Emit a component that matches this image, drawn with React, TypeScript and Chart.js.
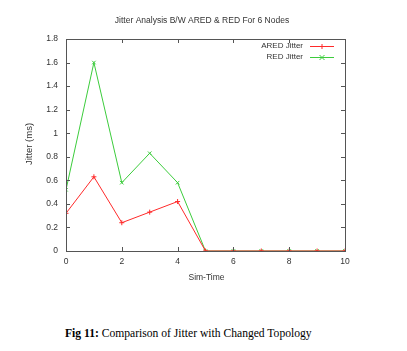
import React, { useEffect, useRef } from "react";
import { Chart, registerables } from "chart.js";

Chart.register(...registerables);

const simTime = [0, 1, 2, 3, 4, 5, 6, 7, 8, 9, 10];
const aredJitter = [0.32, 0.63, 0.24, 0.33, 0.42, 0, 0, 0, 0, 0, 0];
const redJitter = [0.52, 1.6, 0.58, 0.83, 0.58, 0, 0, 0, 0, 0, 0];
const xTicks = [0, 2, 4, 6, 8, 10];
const yTicks = [0, 0.2, 0.4, 0.6, 0.8, 1, 1.2, 1.4, 1.6, 1.8];
const titleText = "Jitter Analysis B/W ARED & RED For 6 Nodes";
const xLabel = "Sim-Time";
const yLabel = "Jitter (ms)";
const seriesNames = ["ARED Jitter", "RED Jitter"];
const seriesColors = ["#ff2a2a", "#3ccc3c"];
const seriesMarkers = ["cross", "crossRot"];

const FONT = "'Liberation Sans', Arial, sans-serif";
const TEXT = "#333";

const decorPlugin = {
  id: "decor",
  afterDraw(chart: any) {
    const { ctx, chartArea } = chart;
    const { left, right, top, bottom } = chartArea;
    const xs = chart.scales.x;
    const ys = chart.scales.y;
    ctx.save();
    ctx.strokeStyle = "#555";
    ctx.lineWidth = 1;
    ctx.strokeRect(Math.round(left) + 0.5, Math.round(top) + 0.5, Math.round(right - left), Math.round(bottom - top));
    const tl = 4;
    ctx.beginPath();
    yTicks.forEach((v) => {
      const y = Math.round(ys.getPixelForValue(v)) + 0.5;
      ctx.moveTo(left, y);
      ctx.lineTo(left + tl, y);
      ctx.moveTo(right, y);
      ctx.lineTo(right - tl, y);
    });
    xTicks.forEach((v) => {
      const x = Math.round(xs.getPixelForValue(v)) + 0.5;
      ctx.moveTo(x, bottom);
      ctx.lineTo(x, bottom - tl);
      ctx.moveTo(x, top);
      ctx.lineTo(x, top + tl);
    });
    ctx.stroke();

    ctx.fillStyle = TEXT;
    ctx.font = `8.5px ${FONT}`;
    ctx.textAlign = "center";
    ctx.textBaseline = "middle";
    ctx.fillText(titleText, 202, 21);
    ctx.font = `8.5px ${FONT}`;
    ctx.fillText(xLabel, (left + right) / 2 + 1, 278);
    ctx.save();
    ctx.translate(29, 144);
    ctx.rotate(-Math.PI / 2);
    ctx.font = `9.5px ${FONT}`;
    ctx.fillText(yLabel, 0, 0);
    ctx.restore();

    const rows = [45.5, 57];
    seriesNames.forEach((name, i) => {
      const y = rows[i];
      ctx.fillStyle = TEXT;
      ctx.textAlign = "right";
      ctx.font = `8px ${FONT}`;
      ctx.fillText(name, 303, y);
      ctx.strokeStyle = seriesColors[i];
      ctx.lineWidth = 1;
      ctx.beginPath();
      ctx.moveTo(310, Math.round(y) + 0.5);
      ctx.lineTo(334, Math.round(y) + 0.5);
      ctx.stroke();
      ctx.beginPath();
      const cx = 322, cy = Math.round(y) + 0.5, r = 2.5;
      if (i === 0) {
        ctx.moveTo(cx - r, cy); ctx.lineTo(cx + r, cy);
        ctx.moveTo(cx, cy - r); ctx.lineTo(cx, cy + r);
      } else {
        ctx.moveTo(cx - r, cy - r); ctx.lineTo(cx + r, cy + r);
        ctx.moveTo(cx - r, cy + r); ctx.lineTo(cx + r, cy - r);
      }
      ctx.stroke();
    });
    ctx.restore();
  },
};

export default function App() {
  const ref = useRef<HTMLCanvasElement>(null);
  useEffect(() => {
    const mk = (vals: number[]) => simTime.map((x, i) => ({ x, y: vals[i] }));
    const chart = new Chart(ref.current!, {
      type: "line",
      data: {
        datasets: [aredJitter, redJitter].map((vals, i) => ({
          label: seriesNames[i],
          data: mk(vals),
          borderColor: seriesColors[i],
          backgroundColor: seriesColors[i],
          borderWidth: 1,
          pointStyle: seriesMarkers[i] as any,
          pointRadius: 2.5,
          pointBorderWidth: 1,
          tension: 0,
          fill: false,
        })),
      },
      options: {
        responsive: false,
        animation: false,
        layout: { padding: { left: 36, right: 62, top: 39, bottom: 29 } },
        plugins: { legend: { display: false }, title: { display: false }, tooltip: { enabled: false } },
        scales: {
          x: {
            type: "linear",
            min: 0,
            max: 10,
            afterBuildTicks: (s: any) => { s.ticks = xTicks.map((v) => ({ value: v })); },
            afterFit: (s: any) => { s.height = 20; },
            grid: { display: false, drawTicks: false },
            border: { display: false },
            ticks: { font: { size: 8.5, family: FONT }, color: TEXT, padding: 6, maxRotation: 0, autoSkip: false },
          },
          y: {
            type: "linear",
            min: 0,
            max: 1.8,
            afterBuildTicks: (s: any) => { s.ticks = yTicks.map((v) => ({ value: v })); },
            afterFit: (s: any) => { s.width = 30; },
            grid: { display: false, drawTicks: false },
            border: { display: false },
            ticks: {
              font: { size: 8.5, family: FONT },
              color: TEXT,
              padding: 8,
              autoSkip: false,
              callback: (v: any) => String(Math.round(Number(v) * 10) / 10),
            },
          },
        },
      },
      plugins: [decorPlugin],
    });
    return () => chart.destroy();
  }, []);
  return (
    <div style={{ position: "absolute", left: 0, top: 0, width: 407, height: 351, background: "#fff" }}>
      <canvas ref={ref} width={407} height={300} style={{ display: "block" }} />
      <div
        style={{
          position: "absolute",
          left: 65,
          top: 327,
          fontFamily: "'Liberation Serif', 'Times New Roman', serif",
          fontSize: 11.6,
          color: "#000",
          whiteSpace: "nowrap",
          lineHeight: "14px",
        }}
      >
        <b>Fig 11:</b> Comparison of Jitter with Changed Topology
      </div>
    </div>
  );
}
